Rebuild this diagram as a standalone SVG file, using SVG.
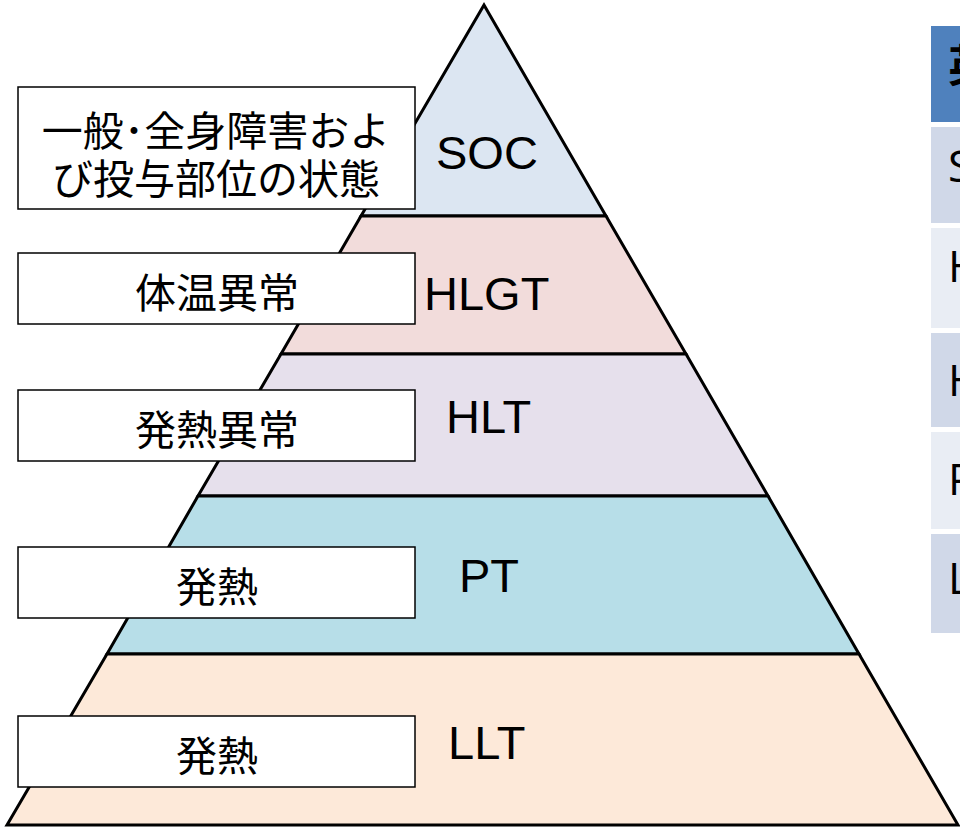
<svg xmlns="http://www.w3.org/2000/svg" width="960" height="827" viewBox="0 0 960 827">
<style>
.layer{stroke:#000;stroke-width:3;stroke-linejoin:miter}
.box{fill:#fff;stroke:#000;stroke-width:1.5}
.jp{font-family:"Noto Sans CJK JP","Liberation Sans",sans-serif;font-size:41px;fill:#000;text-anchor:middle;dominant-baseline:central}
.lv{font-family:"Liberation Sans",Arial,sans-serif;font-size:47px;fill:#000}
.tb{font-family:"Open Sans","Liberation Sans",sans-serif;font-size:44px;fill:#000}
</style>
<rect width="960" height="827" fill="#fff"/>
<g id="pyramid">
<polygon id="layer-soc" class="layer" fill="#DCE6F2" points="484,5 606,216 361,216"/>
<polygon id="layer-hlgt" class="layer" fill="#F2DCDB" points="361,216 606,216 686,354 281,354"/>
<polygon id="layer-hlt" class="layer" fill="#E6E0EC" points="281,354 686,354 768,496 198,496"/>
<polygon id="layer-pt" class="layer" fill="#B7DEE8" points="198,496 768,496 859,654 107,654"/>
<polygon id="layer-llt" class="layer" fill="#FDE9D9" points="107,654 859,654 958,825 7,825"/>
</g>
<g id="level-labels">
<text class="lv" x="436" y="169">SOC</text>
<text class="lv" x="424" y="310">HLGT</text>
<text class="lv" x="446" y="433">HLT</text>
<text class="lv" x="459" y="592">PT</text>
<text class="lv" x="448" y="759">LLT</text>
</g>
<g id="node-soc">
<rect class="box" x="18" y="87" width="397" height="122"/>
<text class="jp" x="216" y="128">一般･全身障害およ<tspan x="216" dy="48">び投与部位の状態</tspan></text>
</g>
<g id="node-hlgt">
<rect class="box" x="18" y="253" width="397" height="71"/>
<text class="jp" x="217" y="290">体温異常</text>
</g>
<g id="node-hlt">
<rect class="box" x="18" y="390" width="397" height="71"/>
<text class="jp" x="217" y="427">発熱異常</text>
</g>
<g id="node-pt">
<rect class="box" x="18" y="547" width="397" height="71"/>
<text class="jp" x="217" y="584">発熱</text>
</g>
<g id="node-llt">
<rect class="box" x="18" y="716" width="397" height="71"/>
<text class="jp" x="217" y="753">発熱</text>
</g>
<g id="connectors"></g>
<g id="table">
<rect x="931" y="26" width="40" height="96" fill="#4F81BD"/>
<rect x="931" y="127" width="40" height="96" fill="#D0D8E8"/>
<rect x="931" y="228" width="40" height="100" fill="#E9EDF4"/>
<rect x="931" y="333" width="40" height="94" fill="#D0D8E8"/>
<rect x="931" y="432" width="40" height="97" fill="#E9EDF4"/>
<rect x="931" y="534" width="40" height="99" fill="#D0D8E8"/>
<text x="948" y="82" style="font-family:'Noto Sans CJK JP',sans-serif;font-size:44px;font-weight:bold;fill:#000">英</text>
<text class="tb" x="948" y="182">S</text>
<text class="tb" x="948" y="282">H</text>
<text class="tb" x="948" y="396">H</text>
<text class="tb" x="948" y="495">P</text>
<text class="tb" x="948" y="594">L</text>
</g>
</svg>
